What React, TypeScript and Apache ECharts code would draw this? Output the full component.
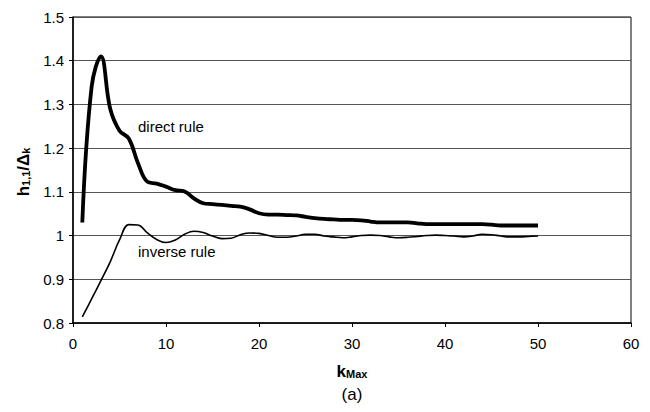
import React, { useEffect, useRef } from "react";
import * as echarts from "echarts";

const kValues = [
  1, 2, 3, 4, 5, 6, 7, 8, 9, 10, 11, 12, 13, 14, 15, 16, 17, 18, 19, 20, 21, 22, 23, 24, 25,
  26, 27, 28, 29, 30, 31, 32, 33, 34, 35, 36, 37, 38, 39, 40, 41, 42, 43, 44, 45, 46, 47, 48, 49, 50,
];

const directRule = [
  1.03, 1.34, 1.41, 1.29, 1.24, 1.222, 1.165, 1.123, 1.119, 1.112, 1.104, 1.101, 1.085, 1.074,
  1.072, 1.07, 1.068, 1.066, 1.06, 1.051, 1.048, 1.048, 1.047, 1.046, 1.043, 1.04, 1.038, 1.037,
  1.036, 1.036, 1.035, 1.032, 1.03, 1.03, 1.03, 1.03, 1.028, 1.026, 1.026, 1.026, 1.026, 1.026,
  1.026, 1.026, 1.025, 1.023, 1.023, 1.023, 1.023, 1.023,
];

const inverseRule = [
  0.814, 0.855, 0.897, 0.94, 0.99, 1.025, 1.024, 1.006, 0.991, 0.984, 0.99, 1.003, 1.01, 1.007,
  0.999, 0.993, 0.994, 1.002, 1.006, 1.005, 1.0, 0.996, 0.996, 0.999, 1.003, 1.003, 0.999, 0.997,
  0.995, 0.997, 1.0, 1.001, 1.0, 0.997, 0.995, 0.996, 0.998, 1.0, 1.001, 1.0, 0.999, 0.997, 0.999,
  1.003, 1.002, 0.999, 0.997, 0.997, 0.998, 0.999,
];

const xTicks = { min: 0, max: 60, interval: 10 };
const yTicks = { min: 0.8, max: 1.5, interval: 0.1 };

const FONT = "'Liberation Sans', Arial, sans-serif";

export default function App() {
  const ref = useRef<HTMLDivElement>(null);

  useEffect(() => {
    if (!ref.current) return;
    const chart = echarts.init(ref.current, undefined, { renderer: "svg" });
    const toPairs = (ys: number[]) => kValues.map((k, i) => [k, ys[i]]);
    const titleRich = {
      b: { fontSize: 17, fontWeight: "bold", fontFamily: FONT, verticalAlign: "bottom", lineHeight: 19 },
      s: { fontSize: 11, fontWeight: "bold", fontFamily: FONT, verticalAlign: "bottom", lineHeight: 19, padding: [6, 0, 0, 0] },
    };
    chart.setOption({
      animation: false,
      backgroundColor: "#ffffff",
      textStyle: { fontFamily: FONT },
      grid: {
        left: 73,
        right: 19,
        top: 17,
        bottom: 89,
        show: true,
        borderColor: "#000",
        borderWidth: 1,
        backgroundColor: "transparent",
      },
      xAxis: {
        type: "value",
        min: xTicks.min,
        max: xTicks.max,
        interval: xTicks.interval,
        axisLine: { show: true, lineStyle: { color: "#000", width: 1.5 } },
        axisTick: { show: true, length: 4, lineStyle: { color: "#000" } },
        axisLabel: { color: "#000", fontSize: 15, margin: 13, fontFamily: FONT },
        splitLine: { show: false },
      },
      yAxis: {
        type: "value",
        min: yTicks.min,
        max: yTicks.max,
        interval: yTicks.interval,
        axisLine: { show: true, lineStyle: { color: "#000", width: 1.5 } },
        axisTick: { show: true, length: 4, lineStyle: { color: "#000" } },
        axisLabel: { color: "#000", fontSize: 15, margin: 9, fontFamily: FONT },
        splitLine: { show: true, lineStyle: { color: "#555", width: 1 } },
      },
      series: [
        {
          name: "direct rule",
          type: "line",
          data: toPairs(directRule),
          smooth: 0.4,
          showSymbol: false,
          lineStyle: { color: "#000", width: 3.8 },
        },
        {
          name: "inverse rule",
          type: "line",
          data: toPairs(inverseRule),
          smooth: 0.4,
          showSymbol: false,
          lineStyle: { color: "#000", width: 1.6 },
        },
      ],
      graphic: [
        {
          type: "text",
          left: 138,
          top: 119,
          style: { text: "direct rule", fill: "#000", fontSize: 15, fontFamily: FONT },
        },
        {
          type: "text",
          left: 138,
          top: 244,
          style: { text: "inverse rule", fill: "#000", fontSize: 15, fontFamily: FONT },
        },
        {
          type: "text",
          x: 22,
          y: 172,
          rotation: Math.PI / 2,
          style: {
            text: "{b|h}{s|1,1}{b|/Δ}{s|k}",
            textAlign: "center",
            textVerticalAlign: "middle",
            fill: "#000",
            rich: titleRich,
          },
        },
        {
          type: "text",
          x: 352,
          y: 370,
          style: {
            text: "{b|k}{s|Max}",
            textAlign: "center",
            textVerticalAlign: "middle",
            fill: "#000",
            rich: titleRich,
          },
        },
        {
          type: "text",
          x: 352,
          y: 394,
          style: {
            text: "(a)",
            textAlign: "center",
            textVerticalAlign: "middle",
            fill: "#000",
            fontSize: 17,
            fontFamily: FONT,
          },
        },
      ],
    });
    return () => chart.dispose();
  }, []);

  return (
    <div
      ref={ref}
      style={{ position: "fixed", left: 0, top: 0, width: 650, height: 412, background: "#fff" }}
    />
  );
}
